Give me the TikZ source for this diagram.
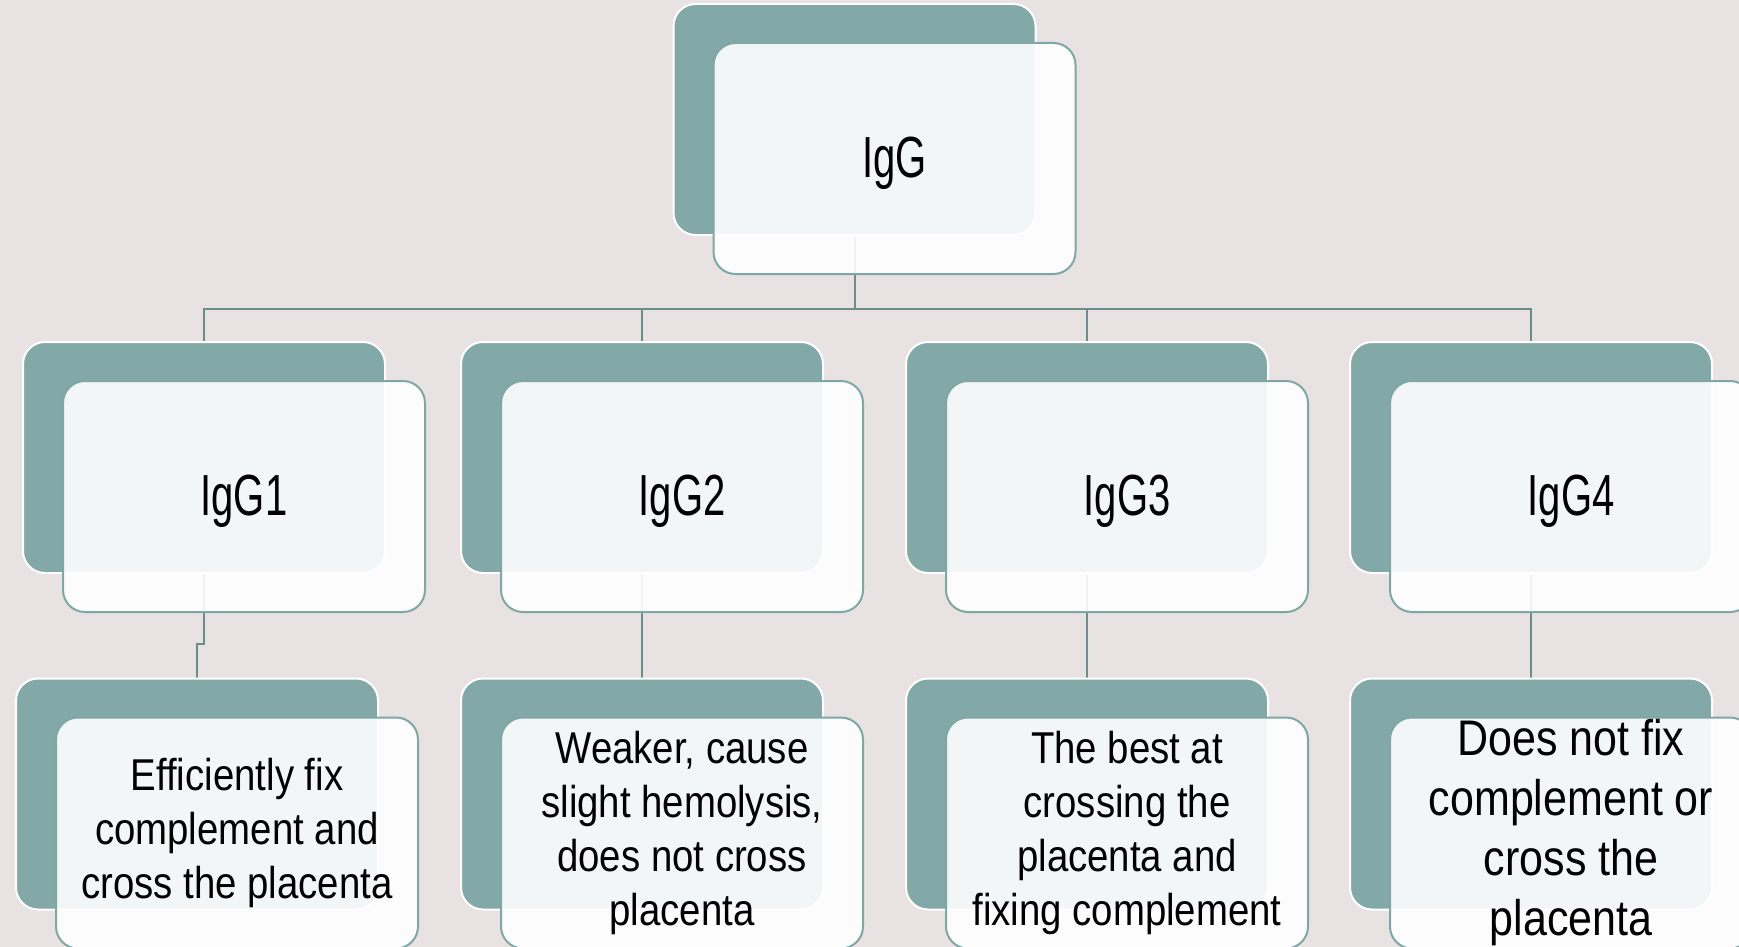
\documentclass[tikz,border=0pt]{standalone}
\usepackage{fontspec}
\setmainfont{Liberation Sans}[FakeStretch=0.86]
\newfontfamily\titlefont{Liberation Sans}[FakeStretch=0.69]
\usetikzlibrary{positioning}
\usetikzlibrary{calc}

\definecolor{bgrose}{HTML}{E8E2E2}
\definecolor{tealback}{HTML}{82A9A7}
\definecolor{tealedge}{HTML}{7FA7A5}
\definecolor{tealline}{HTML}{6A8E8C}

\pgfdeclarelayer{bg}
\pgfdeclarelayer{links}
\pgfsetlayers{bg,links,main}

\tikzset{
    backbox/.style={draw=white, line width=1pt, fill=tealback, rounded corners=11pt,
        minimum width=181pt, minimum height=115.5pt, inner sep=0pt},
    frontbox/.style={draw=tealedge, line width=1pt, fill=white, fill opacity=0.9, text opacity=1,
        rounded corners=11pt, minimum width=181pt, minimum height=115.5pt, inner sep=0pt, align=center},
    title/.style={font=\titlefont\fontsize{29}{34}\selectfont, text height=25pt, text depth=6pt},
    desc/.style={font=\fontsize{22.3}{27}\selectfont},
    descbig/.style={font=\fontsize{25}{30}\selectfont},
    link/.style={draw=tealline, line width=1pt},
}

\begin{document}
\begin{tikzpicture}[x=0.5pt, y=-0.5pt]
    \useasboundingbox (0,0) rectangle (1739,947);
    \clip (0,0) rectangle (1739,947);
    \begin{pgfonlayer}{bg}
        \fill[bgrose] (0,0) rectangle (1739,947);
    \end{pgfonlayer}

    % top
    \node[backbox] (igg-b) at (854.5,119.5) {};
    \node[frontbox, title] (igg) at ([shift={(40,39)}]igg-b.center) {IgG};

    % subclasses
    \foreach \n/\x in {1/204,2/642,3/1087,4/1531}
    {
        \node[backbox] (sub\n-b) at (\x,457.5) {};
        \node[frontbox, title] (sub\n) at ([shift={(40,39)}]sub\n-b.center) {IgG\n};
    }

    % descriptions
    \foreach \n/\x/\sty/\txt in {
        1/197/desc/{Efficiently fix\\complement and\\cross the placenta},
        2/642/desc/{Weaker, cause\\slight hemolysis,\\does not cross\\placenta},
        3/1087/desc/{The best at\\crossing the\\placenta and\\fixing complement},
        4/1531/descbig/{Does not fix\\complement or\\cross the\\placenta}}
    {
        \node[backbox] (note\n-b) at (\x,794) {};
        \node[frontbox, \sty] (note\n) at ([shift={(40,39)}]note\n-b.center) {\txt};
    }

    % connectors
    \begin{pgfonlayer}{links}
        \coordinate (bus) at ($(igg-b.south)+(0,73)$);
        \draw[link] (igg-b.south) -- (bus);
        \foreach \n in {1,2,3,4}
        {
            \draw[link] (bus) -| (sub\n-b.north);
            \draw[link] (sub\n-b.south) |- ([yshift=17pt]note\n-b.north) -- (note\n-b.north);
        }
    \end{pgfonlayer}
\end{tikzpicture}
\end{document}
